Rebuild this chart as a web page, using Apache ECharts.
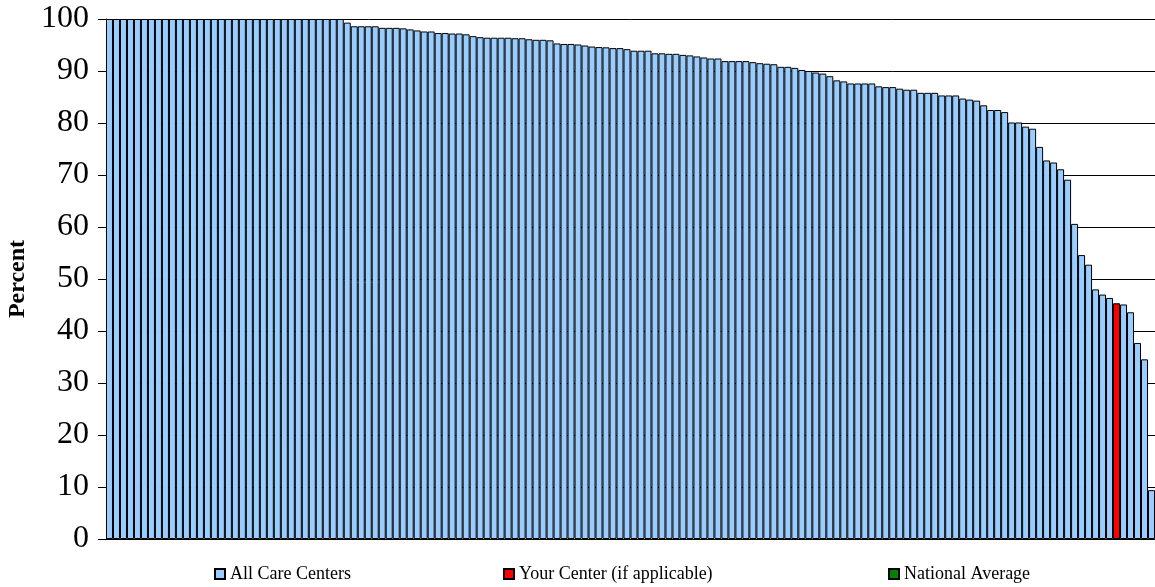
<!DOCTYPE html>
<html>
<head>
<meta charset="utf-8">
<script src="https://cdn.jsdelivr.net/npm/echarts@6/dist/echarts.min.js"></script>
<style>
html, body { margin: 0; padding: 0; background: #fff; }
#chart { width: 1155px; height: 587px; }
</style>
</head>
<body>
<div id="chart"></div>
<script>
// 150 care centers, sorted high to low
const allCenters = [
    100, 100, 100, 100, 100, 100, 100, 100, 100, 100,
    100, 100, 100, 100, 100, 100, 100, 100, 100, 100,
    100, 100, 100, 100, 100, 100, 100, 100, 100, 100,
    100, 100, 100, 100, 99.3, 98.6, 98.6, 98.6, 98.6, 98.3,
    98.3, 98.3, 98.2, 98.0, 97.8, 97.6, 97.6, 97.3, 97.3, 97.2,
    97.2, 97.05, 96.7, 96.5, 96.4, 96.4, 96.4, 96.4, 96.3, 96.3,
    96.1, 96.0, 96.0, 95.9, 95.3, 95.2, 95.2, 95.1, 94.9, 94.7,
    94.6, 94.55, 94.4, 94.4, 94.2, 93.9, 93.9, 93.9, 93.4, 93.4,
    93.3, 93.3, 93.1, 93.0, 92.8, 92.6, 92.4, 92.4, 91.9, 91.9,
    91.9, 91.9, 91.7, 91.5, 91.4, 91.3, 90.8, 90.8, 90.6, 90.2,
    90.0, 89.7, 89.5, 89.0, 88.2, 88.0, 87.6, 87.6, 87.6, 87.6,
    87.05, 86.9, 86.9, 86.6, 86.4, 86.4, 85.8, 85.8, 85.8, 85.3,
    85.3, 85.3, 84.7, 84.5, 84.3, 83.4, 82.5, 82.5, 82.1, 80.1,
    80.1, 79.3, 78.9, 75.4, 72.8, 72.4, 71.1, 69.1, 60.6, 54.6,
    52.75, 48.0, 47.0, 46.35, 45.3, 45.1, 43.6, 37.7, 34.55, 9.4
];
const yourCenterIndex = 144;
const yourCenterValue = 45.3;
const nationalAverage = [];
const yTicks = [0, 10, 20, 30, 40, 50, 60, 70, 80, 90, 100];

let categories = allCenters.map((v, i) => 'C' + (i + 1));
let yourCenter = allCenters.map((v, i) => i === yourCenterIndex ? yourCenterValue : '-');

let chart = echarts.init(document.getElementById('chart'));
let serif = '"Liberation Serif", "DejaVu Serif", serif';
let barStyle = function (color) {
    return {
        color: color,
        borderColor: '#000',
        borderWidth: 1
    };
};
let legendText = { fontFamily: serif, fontSize: 18, color: '#000' };
let legendBase = {
    top: 560,
    icon: 'rect',
    itemWidth: 10,
    itemHeight: 10,
    itemGap: 5,
    textStyle: legendText
};

let option = {
    animation: false,
    grid: { left: 106, right: 0, top: 19, bottom: 48, containLabel: false, outerBoundsMode: 'none' },
    legend: [
        Object.assign({ data: ['All Care Centers'], left: 209 }, legendBase),
        Object.assign({ data: ['Your Center (if applicable)'], left: 498 }, legendBase),
        Object.assign({ data: ['National Average'], left: 883 }, legendBase)
    ],
    xAxis: {
        type: 'category',
        data: categories,
        axisLine: { lineStyle: { color: '#000', width: 1 } },
        axisTick: { show: false },
        axisLabel: { show: false }
    },
    yAxis: {
        type: 'value',
        min: 0,
        max: 100,
        interval: 10,
        name: 'Percent',
        nameLocation: 'middle',
        nameRotate: 90,
        nameGap: 75,
        nameTextStyle: { fontFamily: serif, fontSize: 24, fontWeight: 'bold', color: '#000' },
        axisLine: { show: true, lineStyle: { color: '#000', width: 1 } },
        axisTick: { show: true, inside: false, length: 8, lineStyle: { color: '#000' } },
        axisLabel: {
            margin: 17,
            fontFamily: serif,
            fontSize: 32,
            color: '#000',
            formatter: function (v) { return yTicks.indexOf(v) >= 0 ? String(v) : ''; }
        },
        splitLine: { show: true, lineStyle: { color: '#000', width: 1 } }
    },
    series: [
        {
            name: 'All Care Centers',
            type: 'bar',
            data: allCenters,
            barCategoryGap: '0%',
            barGap: '-100%',
            itemStyle: barStyle('#99CCFF')
        },
        {
            name: 'Your Center (if applicable)',
            type: 'bar',
            data: yourCenter,
            barCategoryGap: '0%',
            barGap: '-100%',
            itemStyle: barStyle('#FF0000')
        },
        {
            name: 'National Average',
            type: 'bar',
            data: nationalAverage,
            barCategoryGap: '0%',
            barGap: '-100%',
            itemStyle: barStyle('#008000')
        }
    ]
};
chart.setOption(option);
</script>
</body>
</html>
